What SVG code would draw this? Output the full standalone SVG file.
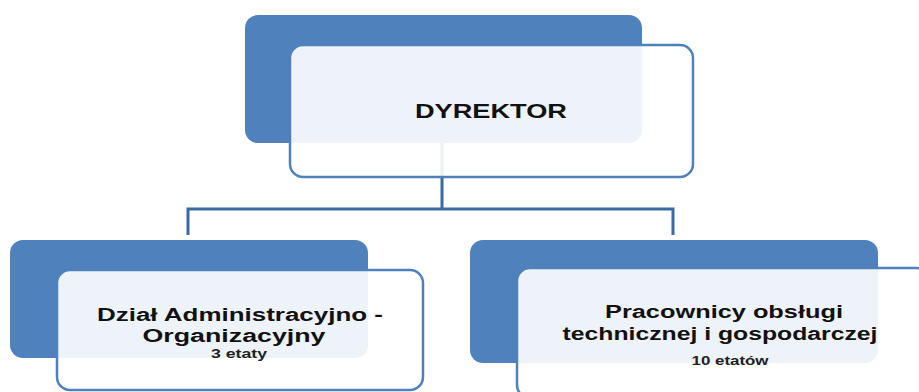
<svg xmlns="http://www.w3.org/2000/svg" width="919" height="392" viewBox="0 0 919 392">
<style>
.back{fill:#4f81bd}
.front{fill:#ffffff;fill-opacity:0.9;stroke:#4f81bd;stroke-width:2.5}
.conn{fill:none;stroke:#3a6a9f;stroke-width:3}
.t{font-family:"Liberation Sans",Arial,sans-serif;font-weight:bold;fill:#111;text-anchor:middle}
.s{font-family:"Liberation Sans",Arial,sans-serif;font-weight:bold;fill:#222;text-anchor:middle}
</style>
<rect width="919" height="392" fill="#ffffff"/>
<g id="connectors">
<path class="conn" d="M442 143 V209 M188 235 V209 H673 V235"/>
</g>
<g id="dyrektor">
<rect class="back" x="245" y="15" width="397" height="128" rx="13"/>
<rect class="front" x="290" y="45" width="403" height="132" rx="13"/>
<text class="t" x="491" y="118" font-size="21" textLength="152" lengthAdjust="spacingAndGlyphs">DYREKTOR</text>
</g>
<g id="dzial">
<rect class="back" x="10" y="240" width="358" height="118" rx="13"/>
<rect class="front" x="57" y="270" width="366" height="120" rx="13"/>
<text class="t" x="240" y="321" font-size="18" textLength="286" lengthAdjust="spacingAndGlyphs">Dział Administracyjno -</text>
<text class="t" x="234" y="342" font-size="18" textLength="183" lengthAdjust="spacingAndGlyphs">Organizacyjny</text>
<text class="s" x="239" y="358" font-size="12" textLength="56" lengthAdjust="spacingAndGlyphs">3 etaty</text>
</g>
<g id="pracownicy">
<rect class="back" x="470" y="240" width="408" height="123" rx="13"/>
<rect class="front" x="517" y="268" width="412" height="130" rx="13"/>
<text class="t" x="724" y="318" font-size="18" textLength="238" lengthAdjust="spacingAndGlyphs">Pracownicy obsługi</text>
<text class="t" x="720" y="340" font-size="18" textLength="315" lengthAdjust="spacingAndGlyphs">technicznej i gospodarczej</text>
<text class="s" x="730" y="365" font-size="12" textLength="77" lengthAdjust="spacingAndGlyphs">10 etatów</text>
</g>
</svg>
